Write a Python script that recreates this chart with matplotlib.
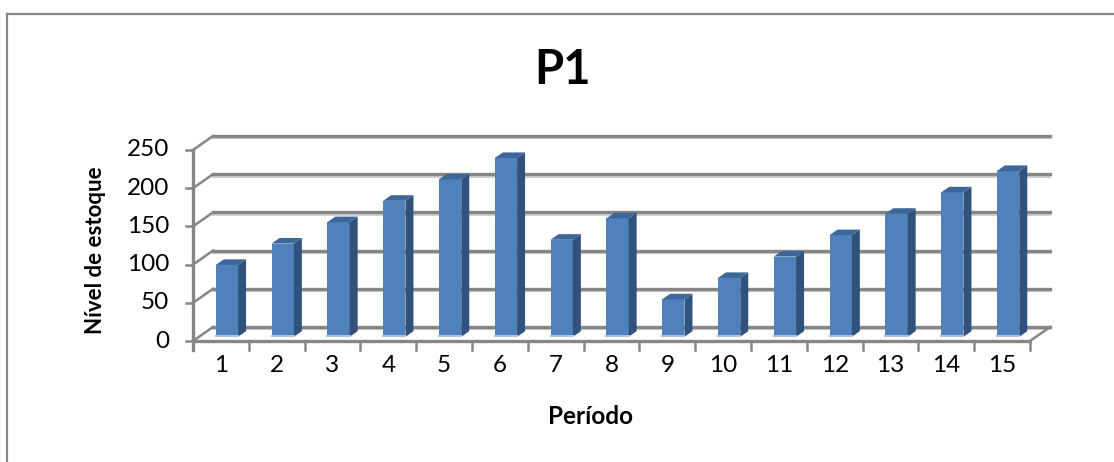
import numpy as np
import matplotlib.pyplot as plt
from matplotlib.patches import Polygon

# dados
periodos = [str(i) for i in range(1, 16)]
estoque = [94, 122, 150, 178, 206, 234, 127, 155, 49, 77, 105, 133, 161, 189, 217]
y_ticks = [0, 50, 100, 150, 200, 250]

titulo = "P1"
xlabel = "Período"
ylabel = "Nível de estoque"

plt.rcParams["font.family"] = ["Lato", "DejaVu Sans"]

W, H = 1114, 462
fig = plt.figure(figsize=(W / 100, H / 100), dpi=100)

# eixo "frontal": x de 193 a 1030 px, y de 341 (0) a 150 (250)
ax = fig.add_axes([193 / W, (H - 341) / H, (1030 - 193) / W, (341 - 150) / H])
ax.set_xlim(0, 15)
ax.set_ylim(0, 250)
ax.axis("off")

px_x = (1030 - 193) / 15  # pixels por categoria
px_y = (341 - 150) / 250  # pixels por unidade
dx = 20 / px_x  # profundidade 3D
dy = 14 / px_y

cinza = "#868686"

# paredes: grade do fundo e diagonais da parede esquerda
for v in y_ticks:
    ax.plot([dx, 15 + dx], [v + dy - 2.4 / px_y] * 2, color="#cfcfcf", lw=1.5, clip_on=False, zorder=1)
    ax.plot([dx, 15 + dx], [v + dy] * 2, color=cinza, lw=2.4, clip_on=False, zorder=2)
    ax.plot([0, dx], [v, v + dy], color=cinza, lw=1.8, clip_on=False, zorder=2)
    ax.plot([-7 / px_x, 0], [v, v], color=cinza, lw=1.8, clip_on=False, zorder=2)
    ax.text(-24 / px_x, v, str(v), ha="right", va="center", fontsize=17.5, color="black")

# eixo vertical e piso
ax.plot([0, 0], [-9 / px_y, 250], color=cinza, lw=2.4, clip_on=False, zorder=3)
ax.plot([0, 15], [0, 0], color=cinza, lw=2.4, clip_on=False, zorder=3)
ax.plot([15, 15 + dx], [0, dy], color=cinza, lw=1.8, clip_on=False, zorder=3)
for i in range(16):
    ax.plot([i, i], [0, -9 / px_y], color=cinza, lw=1.8, clip_on=False, zorder=3)

# barras 3D
largura = 0.4
f0, f1 = 0.3, 0.7  # profundidade frente/fundo da barra
for i, (p, v) in enumerate(zip(periodos, estoque)):
    x0 = i + 0.5 - largura / 2 + f0 * dx
    x1 = x0 + largura
    y0 = f0 * dy
    ddx = (f1 - f0) * dx
    ddy = (f1 - f0) * dy
    frente = Polygon([[x0, y0], [x1, y0], [x1, y0 + v], [x0, y0 + v]], closed=True,
                     facecolor="#4f81bd", edgecolor="none", zorder=5, clip_on=False)
    lado = Polygon([[x1, y0], [x1 + ddx, y0 + ddy], [x1 + ddx, y0 + v + ddy], [x1, y0 + v]], closed=True,
                   facecolor="#30527d", edgecolor="none", zorder=5, clip_on=False)
    topo = Polygon([[x0, y0 + v], [x1, y0 + v], [x1 + ddx, y0 + v + ddy], [x0 + ddx, y0 + v + ddy]], closed=True,
                   facecolor="#3d6699", edgecolor="none", zorder=5, clip_on=False)
    for poly in (frente, lado, topo):
        ax.add_patch(poly)
    ax.plot([x0, x1], [y0 + 0.8 / px_y] * 2, color="#a9c0de", lw=1.5, clip_on=False, zorder=6)
    ax.text(i + 0.5, -25 / px_y, p, ha="center", va="center", fontsize=17.5, color="black")

# textos
fig.text(563 / W, 1 - 70 / H, titulo, ha="center", va="center", fontsize=34, fontweight="bold")
fig.text(590 / W, 1 - 416 / H, xlabel, ha="center", va="center", fontsize=17.5, fontweight="bold")
fig.text(95 / W, 1 - 250 / H, ylabel, ha="center", va="center", fontsize=16, fontweight="bold", rotation=90)

# borda do gráfico
fig.add_artist(plt.Line2D([7 / W, 1], [1 - 14 / H, 1 - 14 / H], color="#878787", lw=1.6))
fig.add_artist(plt.Line2D([7 / W, 7 / W], [0, 1 - 14 / H], color="#878787", lw=1.6))

fig.savefig("out.png", dpi=100, facecolor="white")
